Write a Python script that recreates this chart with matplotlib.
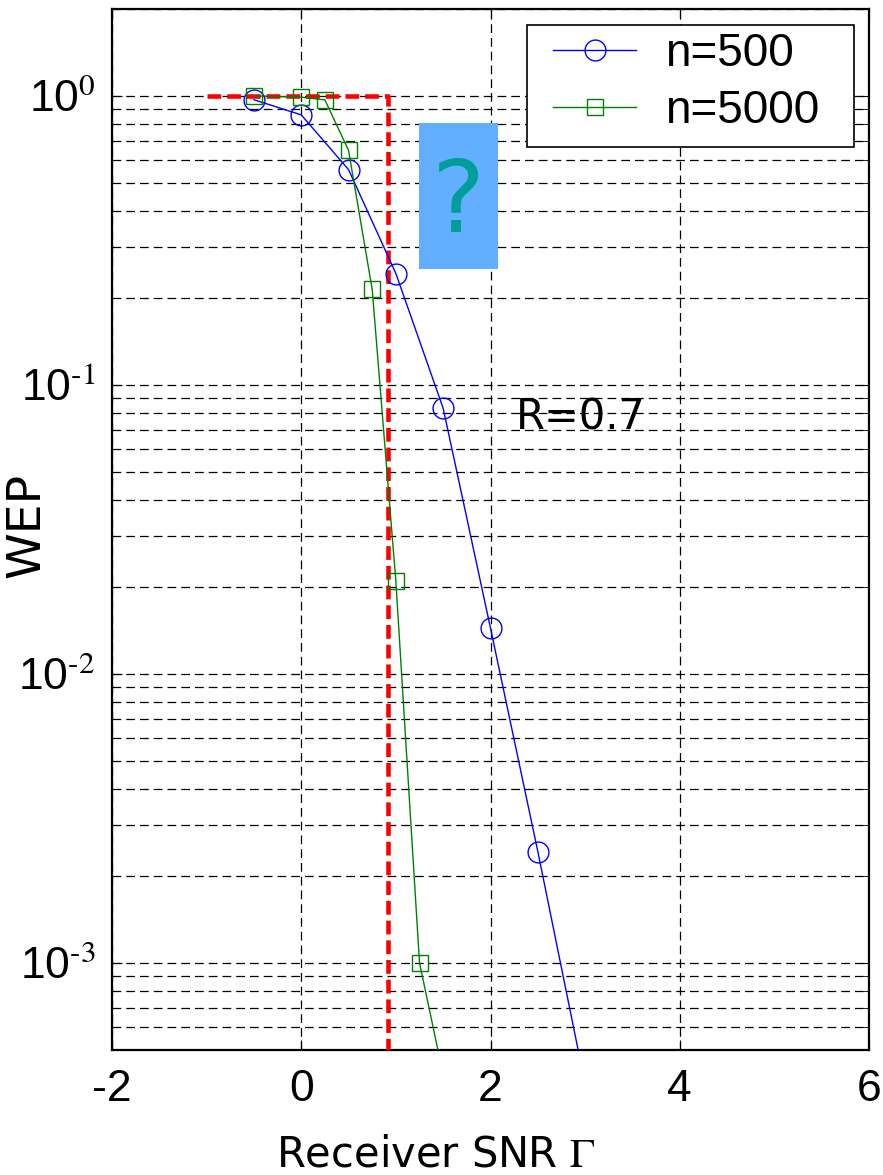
import matplotlib.pyplot as plt
import numpy as np
from matplotlib.patches import Rectangle
from matplotlib.ticker import LogLocator, FixedLocator, FuncFormatter, NullFormatter

plt.rcParams['font.family'] = ['Liberation Sans', 'DejaVu Sans']
plt.rcParams['mathtext.fontset'] = 'stix'
plt.rcParams['axes.unicode_minus'] = False

# word error probability vs receiver SNR
snr_500 = [-0.5, 0.0, 0.5, 1.0, 1.5, 2.0, 2.5, 3.0]
wep_500 = [0.97, 0.86, 0.556, 0.243, 0.083, 0.0144, 0.00243, 3.8e-4]

snr_5000 = [-0.5, 0.0, 0.25, 0.5, 0.75, 1.0, 1.25, 1.5]
wep_5000 = [1.0, 0.99, 0.969, 0.648, 0.214, 0.0209, 0.001, 4.1e-4]

# threshold marker (red dashed)
thr_x = [-1.0, 0.92, 0.92]
thr_y = [1.0, 1.0, 5e-4]

x_ticks = [-2, 0, 2, 4, 6]

fig = plt.figure(figsize=(8.83, 11.75), dpi=100)
ax = fig.add_axes([0.1268, 0.1064, 0.8574, 0.8860])

ax.set_yscale('log')
ax.set_xlim(-2, 6)
ax.set_ylim(5e-4, 2)

ax.plot(thr_x, thr_y, color='#FF0000', lw=3.3, linestyle=(0, (3.0, 1.3)), zorder=3)

ax.plot(snr_500, wep_500, color='#0000FF', lw=1, marker='o', markersize=15,
        markerfacecolor='none', markeredgewidth=1, label='n=500', zorder=4)
ax.plot(snr_5000, wep_5000, color='#008000', lw=1, marker='s', markersize=12,
        markerfacecolor='none', markeredgewidth=1, label='n=5000', zorder=4)

# highlight box with question mark
ax.add_patch(Rectangle((1.24, 0.251), 0.835, 0.807 - 0.251, facecolor='#62AFFF',
                       edgecolor='none', zorder=2))
ax.text(1.66, 0.42, '?', fontsize=72, color='#009E98', ha='center', va='center',
        family='DejaVu Sans', zorder=5)

ax.text(2.265, 0.0769, 'R=0.7', fontsize=30, family='DejaVu Sans', ha='left', va='center')

ax.xaxis.set_major_locator(FixedLocator(x_ticks))
ax.yaxis.set_major_locator(LogLocator(base=10, numticks=10))
ax.yaxis.set_minor_locator(LogLocator(base=10, subs=np.arange(2, 10), numticks=10))
ax.yaxis.set_minor_formatter(NullFormatter())
ax.yaxis.set_major_formatter(
    FuncFormatter(lambda v, p: r'$\mathregular{10^{\text{%d}}}$' % round(np.log10(v))))

ax.tick_params(axis='both', which='major', labelsize=32, direction='in', length=7,
               top=True, right=True)
ax.tick_params(axis='x', pad=14)
ax.tick_params(axis='y', pad=12)
ax.tick_params(axis='y', which='minor', direction='in', length=4, right=True)

ax.grid(True, which='major', color='black', linestyle=(0, (7, 4)), lw=0.9)
ax.grid(True, which='minor', axis='y', color='black', linestyle=(0, (7, 4)), lw=0.9)
ax.set_axisbelow(True)

for s in ax.spines.values():
    s.set_linewidth(1.6)

ax.set_xlabel(r'Receiver SNR $\Gamma$', fontsize=30, family='DejaVu Sans')
ax.xaxis.set_label_coords(0.427, -0.080)
ax.set_ylabel('WEP', fontsize=34, family='DejaVu Sans')
ax.yaxis.set_label_coords(-0.082, 0.504)

# legend: frame drawn separately so the side padding can be wider than top/bottom
ax.add_patch(Rectangle((0.548, 0.8676), 0.432, 0.117, transform=ax.transAxes,
                       facecolor='white', edgecolor='black', lw=1.2, zorder=6))
leg = ax.legend(loc='upper left', bbox_to_anchor=(0.5826, 0.978), fontsize=33,
                frameon=False, handlelength=1.81, borderpad=0, borderaxespad=0,
                labelspacing=0.28, handletextpad=0.63)
leg.set_zorder(7)

fig.savefig('out.png', dpi=100)
